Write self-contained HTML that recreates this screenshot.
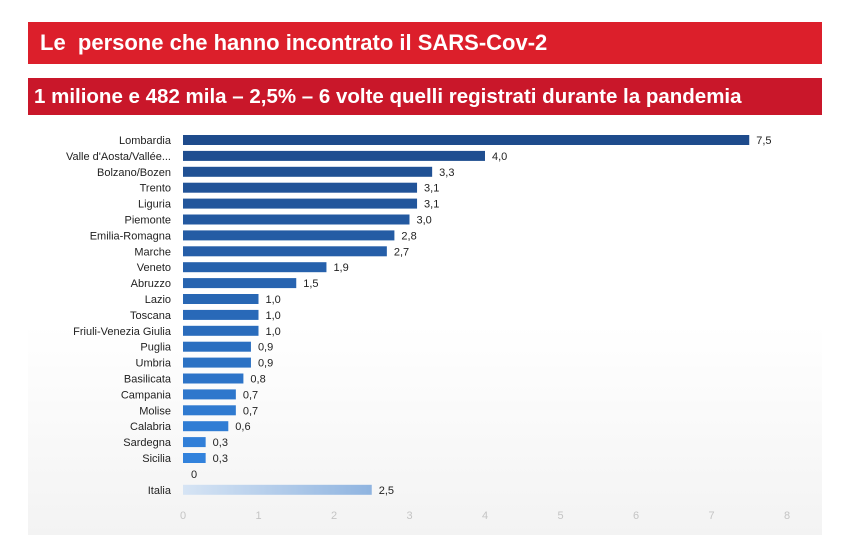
<!DOCTYPE html>
<html><head><meta charset="utf-8"><style>
body{margin:0;width:850px;height:550px;background:#fff;overflow:hidden;font-family:"Liberation Sans",sans-serif}
.bar1{position:absolute;left:28px;top:22px;width:794px;height:42px;background:#dc1f2b;color:#fff;font-weight:bold;font-size:22px;line-height:42px;padding-left:12px;box-sizing:border-box;white-space:nowrap}
.bar2{position:absolute;left:28px;top:78px;width:794px;height:37px;background:#c9172a;color:#fff;font-weight:bold;font-size:20.5px;line-height:37px;padding-left:6px;box-sizing:border-box;white-space:nowrap}
.bg{position:absolute;left:28px;top:115px;width:794px;height:420px;background:linear-gradient(#fff 50%,#f3f3f3)}
</style></head><body>
<div class="bg"></div>
<div class="bar1">Le&nbsp; persone che hanno incontrato il SARS-Cov-2</div>
<div class="bar2">1 milione e 482 mila – 2,5% – 6 volte quelli registrati durante la pandemia</div>
<svg id="c" width="850" height="550" style="position:absolute;left:0;top:0">
<defs>
<linearGradient id="gi" x1="0" x2="1"><stop offset="0" stop-color="#d6e4f4"/><stop offset="1" stop-color="#8fb4e0"/></linearGradient>
</defs>
</svg>
<script>
const categories=["Lombardia","Valle d'Aosta/Vallée...","Bolzano/Bozen","Trento","Liguria","Piemonte","Emilia-Romagna","Marche","Veneto","Abruzzo","Lazio","Toscana","Friuli-Venezia Giulia","Puglia","Umbria","Basilicata","Campania","Molise","Calabria","Sardegna","Sicilia","","Italia"];
const values=[7.5,4.0,3.3,3.1,3.1,3.0,2.8,2.7,1.9,1.5,1.0,1.0,1.0,0.9,0.9,0.8,0.7,0.7,0.6,0.3,0.3,0,2.5];
const labels=["7,5","4,0","3,3","3,1","3,1","3,0","2,8","2,7","1,9","1,5","1,0","1,0","1,0","0,9","0,9","0,8","0,7","0,7","0,6","0,3","0,3","0","2,5"];
const ticks=[0,1,2,3,4,5,6,7,8];
const svg=document.getElementById('c');const NS='http://www.w3.org/2000/svg';
const x=v=>183+v*75.5;
const y=i=>140+i*15.9;
function mk(t,a){const e=document.createElementNS(NS,t);for(const k in a)e.setAttribute(k,a[k]);svg.appendChild(e);return e;}
function col(i){if(i===22)return 'url(#gi)';const f=i/20;const r=Math.round(30+f*(50-30)),g=Math.round(75+f*(130-75)),b=Math.round(140+f*(220-140));return `rgb(${r},${g},${b})`;}
categories.forEach((c,i)=>{
 const cy=y(i);
 if(c){const t=mk('text',{x:171,y:cy+4,'text-anchor':'end','font-size':11,fill:'#222'});t.textContent=c;
 
 }
 if(values[i]>0){const r=mk('rect',{x:x(0),y:cy-5,width:x(values[i])-x(0),height:10,fill:col(i)});
 
 }
 const l=mk('text',{x:x(values[i])+(values[i]>0?7:11),y:cy+4,'font-size':11,fill:'#222','text-anchor':values[i]>0?'start':'middle'});l.textContent=labels[i];
 
 
});
ticks.forEach(t=>{const e=mk('text',{x:x(t),y:519,'text-anchor':'middle','font-size':11,fill:'#c4c4c4'});e.textContent=t;
 
 });
</script>
</body></html>
